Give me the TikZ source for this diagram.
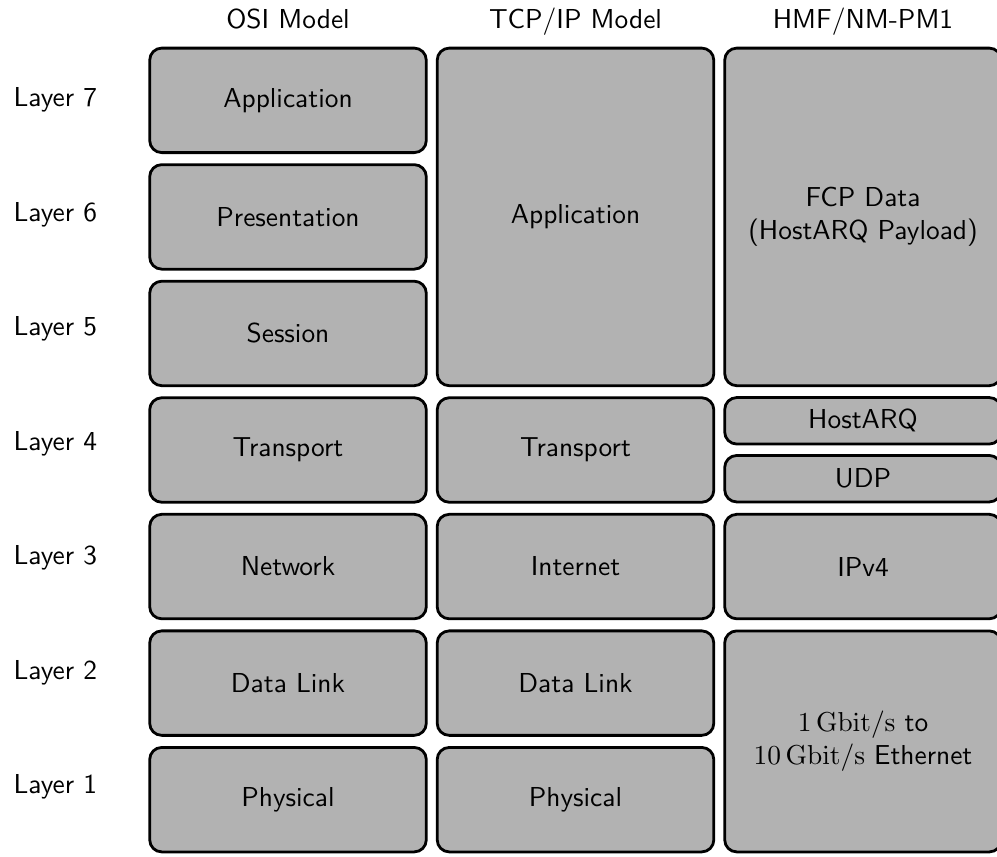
\documentclass[tikz,border=0pt]{standalone}
\begin{document}
\begin{tikzpicture}[x=0.365pt,y=-0.365pt,
  every node/.style={font=\sffamily},
  layerbox/.style={draw=black, fill=black!30, line width=1.02pt,
    rounded corners=4.4pt, inner sep=0pt, align=center,
    minimum width=100.96pt, minimum height=38.14pt},
  tallbox/.style={layerbox, minimum height=123.22pt},
  halfbox/.style={layerbox, minimum height=16.97pt},
  twobox/.style={layerbox, minimum height=80.67pt},
  header/.style={anchor=base},
  layerlabel/.style={anchor=center}]
\useasboundingbox (0,0) rectangle (997,856);

% column headings
\node[header] (hosi) at (288,28.3) {OSI Model};
\node[header] (htcp) at (575.5,28.3) {TCP/IP Model};
\node[header] (hhmf) at (863,28.3) {HMF/NM-PM1};

% layer numbers
\node[layerlabel] (l7) at (55.3,100) {Layer 7};
\node[layerlabel] (l6) at (55.3,214.5) {Layer 6};
\node[layerlabel] (l5) at (55.3,329) {Layer 5};
\node[layerlabel] (l4) at (55.3,443.5) {Layer 4};
\node[layerlabel] (l3) at (55.3,558) {Layer 3};
\node[layerlabel] (l2) at (55.3,672.5) {Layer 2};
\node[layerlabel] (l1) at (55.3,787) {Layer 1};

% OSI stack
\node[layerbox] (osi7) at (288,100.35) {Application};
\node[layerbox] (osi6) at (288,216.9) {Presentation};
\node[layerbox] (osi5) at (288,333.45) {Session};
\node[layerbox] (osi4) at (288,450) {Transport};
\node[layerbox] (osi3) at (288,566.55) {Network};
\node[layerbox] (osi2) at (288,683.1) {Data Link};
\node[layerbox] (osi1) at (288,799.65) {Physical};

% TCP/IP stack
\node[tallbox] (tcpapp) at (575.5,216.9) {Application};
\node[layerbox] (tcp4) at (575.5,450) {Transport};
\node[layerbox] (tcp3) at (575.5,566.55) {Internet};
\node[layerbox] (tcp2) at (575.5,683.1) {Data Link};
\node[layerbox] (tcp1) at (575.5,799.65) {Physical};

% HMF/NM-PM1 stack
\node[tallbox] (fcp) at (863,216.9) {FCP Data\\(HostARQ Payload)};
\node[halfbox] (harq) at (863,420.8) {HostARQ};
\node[halfbox] (udp) at (863,478.7) {UDP};
\node[layerbox] (ipv4) at (863,566.55) {IPv4};
\node[twobox] (eth) at (863,741.4)
  {$1\,\mathrm{Gbit/s}$ to\\$10\,\mathrm{Gbit/s}$ Ethernet};
\end{tikzpicture}
\end{document}
